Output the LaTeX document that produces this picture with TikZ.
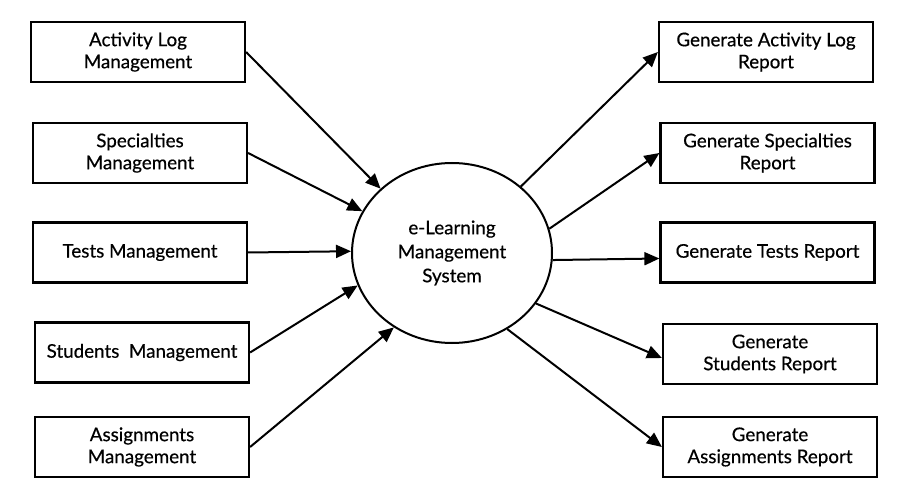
\documentclass[tikz,border=0pt]{standalone}
\usepackage{fontspec}
\setmainfont{Lato}
\newfontface\semilato{Lato}[FakeBold=0.5]
\usetikzlibrary{arrows.meta,shapes.geometric}
\begin{document}
\begin{tikzpicture}[x=1pt,y=-1pt,
  box/.style={draw,line width=2.2pt,minimum width=214pt,minimum height=60pt,inner sep=0pt,align=center,font=\semilato\fontsize{18.8pt}{22pt}\selectfont},
  sys/.style={draw,ellipse,line width=2pt,minimum width=200pt,minimum height=180pt,inner sep=0pt,align=center,font=\semilato\fontsize{18.8pt}{24pt}\selectfont},
  flow/.style={line width=2pt,-{Triangle[length=15pt,width=13pt]}}]
\useasboundingbox (0,0) rectangle (897,494);
\node[box] (a1) at (138,52) {Activity Log\\Management};
\node[box] (a2) at (140,153) {Specialties\\Management};
\node[box] (a3) at (140,252.5) {Tests Management};
\node[box] (a4) at (142,352.5) {Students\ \ Management};
\node[box] (a5) at (142,447) {Assignments\\Management};
\node[box] (g1) at (766,52) {Generate Activity Log\\Report};
\node[box] (g2) at (767.5,153) {Generate Specialties\\Report};
\node[box] (g3) at (767.5,252.5) {Generate Tests Report};
\node[box] (g4) at (770,354) {Generate\\Students Report};
\node[box] (g5) at (770,447) {Generate\\Assignments Report};
\node[sys] (c) at (452,253) {e-Learning\\Management\\System};
\draw[flow] (a1.east) -- (c.138);
\draw[flow] (a2.east) -- (c.155);
\draw[flow] (a3.east) -- (c.179);
\draw[flow] (a4.east) -- (c.199);
\draw[flow] (a5.east) -- (c.232);
\draw[flow] (c.44) -- (g1.west);
\draw[flow] (c.14) -- (g2.west);
\draw[flow] (c.-4) -- ([yshift=-6pt]g3.west);
\draw[flow] (c.-31) -- ([yshift=-4pt]g4.west);
\draw[flow] (c.-54) -- (g5.west);
\end{tikzpicture}
\end{document}
